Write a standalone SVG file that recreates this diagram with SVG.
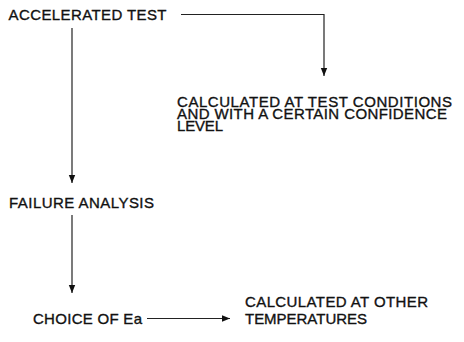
<svg xmlns="http://www.w3.org/2000/svg" width="464" height="342" viewBox="0 0 464 342">
<style>
text{font-family:"Liberation Sans",Arial,sans-serif;font-size:15px;fill:#111;stroke:#111;stroke-width:0.35}
.c{stroke:#222;stroke-width:1.2;fill:none}
</style>
<defs>
<marker id="ah" viewBox="0 0 8 8" refX="8" refY="4" markerWidth="8" markerHeight="8" markerUnits="userSpaceOnUse" orient="auto">
<path d="M0,0.8 L8,4 L0,7.2 Z" fill="#111"/>
</marker>
</defs>
<rect width="464" height="342" fill="#fff"/>
<g id="connectors">
<path class="c" d="M181,14.5 H324 V76" marker-end="url(#ah)"/>
<path class="c" d="M72,28 V183" marker-end="url(#ah)"/>
<path class="c" d="M72,215 V293" marker-end="url(#ah)"/>
<path class="c" d="M147,318.5 H230" marker-end="url(#ah)"/>
</g>
<g id="accelerated-test">
<text x="8.5" y="19.5" textLength="158" lengthAdjust="spacing">ACCELERATED TEST</text>
</g>
<g id="calculated-test">
<text x="177" y="106.5" textLength="275" lengthAdjust="spacing">CALCULATED AT TEST CONDITIONS</text>
<text x="177" y="118.5" textLength="270" lengthAdjust="spacing">AND WITH A CERTAIN CONFIDENCE</text>
<text x="177" y="130.5" textLength="46" lengthAdjust="spacing">LEVEL</text>
</g>
<g id="failure-analysis">
<text x="9" y="207.5" textLength="145" lengthAdjust="spacing">FAILURE ANALYSIS</text>
</g>
<g id="choice-ea">
<text x="33" y="323.5" textLength="109" lengthAdjust="spacing">CHOICE OF Ea</text>
</g>
<g id="calculated-other">
<text x="245" y="307" textLength="183" lengthAdjust="spacing">CALCULATED AT OTHER</text>
<text x="245" y="323.5" textLength="122" lengthAdjust="spacing">TEMPERATURES</text>
</g>
</svg>
